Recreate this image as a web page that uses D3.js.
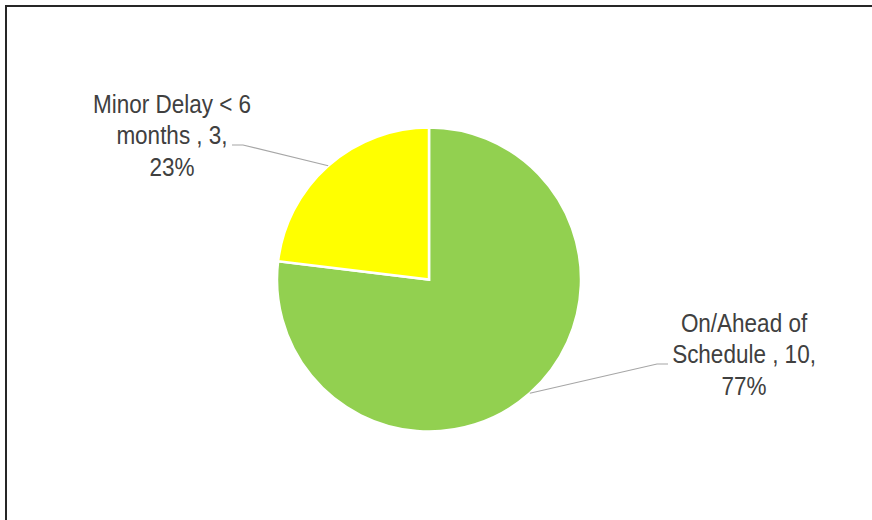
<!DOCTYPE html>
<html>
<head>
<meta charset="utf-8">
<script src="https://cdn.jsdelivr.net/npm/d3@7"></script>
<style>
    html, body { margin: 0; padding: 0; background: #fff; }
    svg { display: block; }
    .label { font-family: "Liberation Sans", Arial, sans-serif; font-size: 25px; fill: #404040; }
</style>
</head>
<body>
<div id="chart"></div>
<script>
// data
const categories = ["On/Ahead of Schedule", "Minor Delay < 6 months"];
const values = [10, 3];
const colors = ["#92D050", "#FFFF00"];
// how each data label is broken into lines
const labelLines = [
    ["On/Ahead of", "Schedule , 10,", "77%"],
    ["Minor Delay < 6", "months , 3,", "23%"]
];

const width = 872, height = 520;
const cx = 429, cy = 279.5, radius = 152;

// label anchors (centre x, first baseline) and leader elbow
const labelPos = [
    {x: 744, y: 332, elbow: [[668, 364], [657, 364]]},
    {x: 172, y: 113, elbow: [[232, 145], [243, 145]]}
];
const lineStep = 31.5;
const squeeze = 0.9; // the original font is a narrow face

const svg = d3.select("#chart")
    .append("svg")
    .attr("width", width)
    .attr("height", height);

// chart frame (top and left edges visible)
svg.append("path")
    .attr("d", `M6,${height} L6,6 L${width},6`)
    .attr("fill", "none")
    .attr("stroke", "#262626")
    .attr("stroke-width", 2);

const pie = d3.pie().sort(null).value(d => d.value);
const data = categories.map((c, i) => ({name: c, value: values[i], color: colors[i], i: i}));
const arcs = pie(data);

const arc = d3.arc().innerRadius(0).outerRadius(radius);
const edge = d3.arc().innerRadius(radius).outerRadius(radius);

const g = svg.append("g")
    .attr("transform", `translate(${cx},${cy})`);

g.selectAll("path.slice")
    .data(arcs)
    .enter()
    .append("path")
    .attr("class", "slice")
    .attr("d", arc)
    .attr("fill", d => d.data.color)
    .attr("stroke", "#fff")
    .attr("stroke-width", 2.5);

// leader lines
arcs.forEach((a, i) => {
    const p = edge.centroid(a);
    const pts = labelPos[i].elbow.concat([[cx + p[0], cy + p[1]]]);
    svg.append("path")
        .attr("d", d3.line()(pts))
        .attr("fill", "none")
        .attr("stroke", "#A6A6A6")
        .attr("stroke-width", 1.2);
});

// labels
arcs.forEach((a, i) => {
    const t = svg.append("text")
        .attr("class", "label")
        .attr("text-anchor", "middle")
        .attr("transform", `translate(${labelPos[i].x},${labelPos[i].y}) scale(${squeeze},1)`);
    labelLines[i].forEach((line, j) => {
        t.append("tspan")
            .attr("x", 0)
            .attr("y", j * lineStep)
            .text(line);
    });
});
</script>
</body>
</html>
